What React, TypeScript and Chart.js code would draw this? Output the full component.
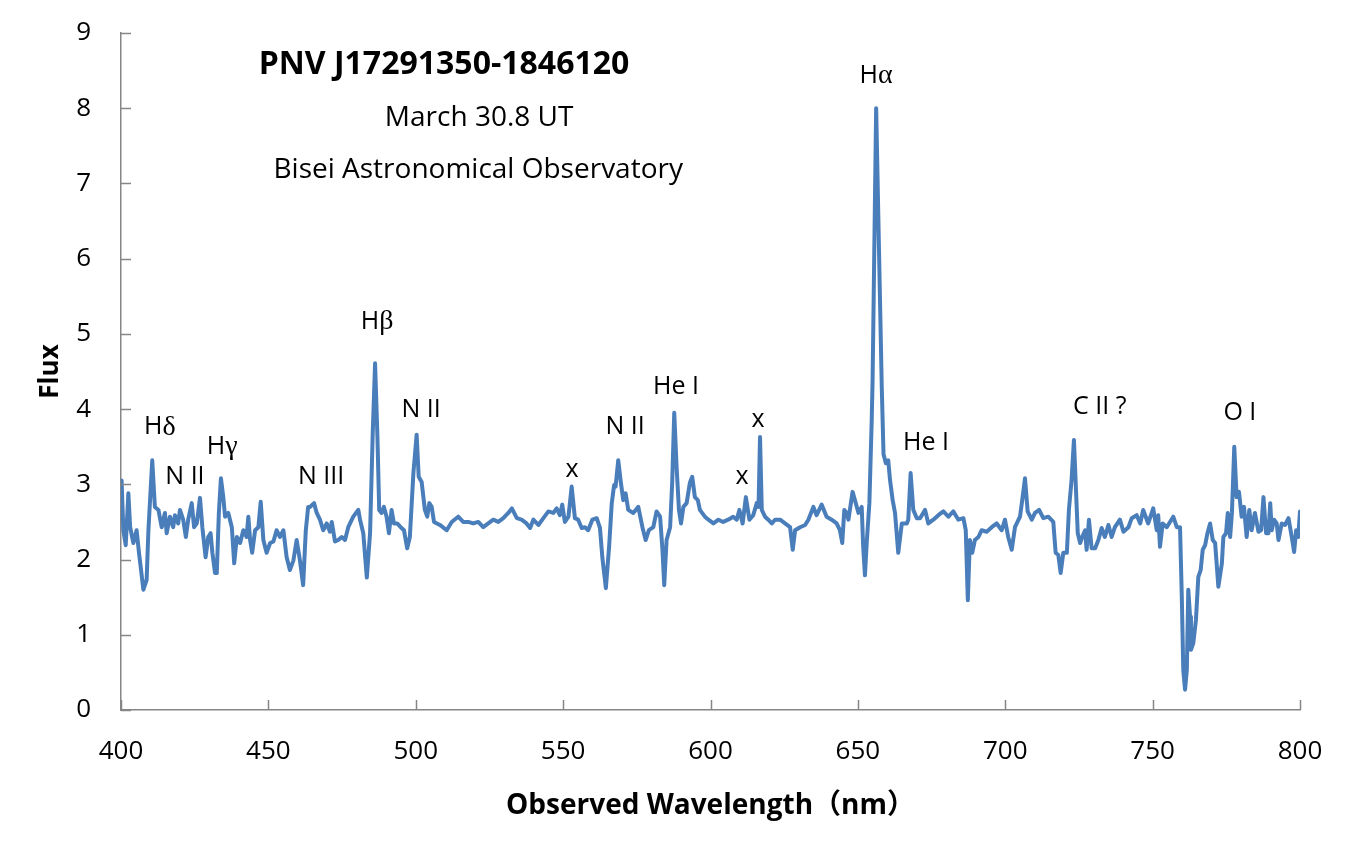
import React, { useEffect, useRef } from "react";
import { Chart, registerables } from "chart.js";

Chart.register(...registerables);

const wavelength = [
  400.2, 400.8, 401.6, 402.5, 403.1, 404.2, 405.3, 406.1, 407.6, 408.7, 409.3, 410.6, 411.5, 412.7, 413.8, 414.9, 415.5, 416.6, 417.7, 418.3,
  419.4, 420.0, 421.1, 422.0, 422.8, 424.0, 424.8, 425.7, 426.8, 427.6, 428.7, 429.6, 430.4, 431.0, 431.9, 432.5, 433.2, 433.9, 434.7, 435.3,
  436.4, 437.6, 438.4, 439.3, 440.4, 441.5, 442.6, 443.2, 443.8, 444.5, 445.5, 446.6, 447.4, 448.3, 449.4, 450.6, 451.7, 452.8, 453.9, 455.1,
  456.2, 457.3, 458.5, 459.6, 460.7, 461.8, 462.7, 463.5, 464.1, 465.5, 466.4, 467.5, 468.6, 469.8, 470.9, 471.5, 472.6, 473.7, 474.9, 476.0,
  477.1, 478.8, 480.5, 481.1, 482.2, 483.4, 484.5, 485.4, 486.2, 487.0, 487.6, 488.4, 489.2, 490.1, 490.9, 491.8, 492.6, 493.7, 494.9, 496.0,
  497.1, 498.0, 499.2, 500.3, 501.0, 502.0, 503.1, 503.9, 504.6, 505.4, 506.2, 508.2, 510.5, 512.2, 514.4, 516.1, 517.8, 519.5, 521.2, 522.9,
  524.6, 526.3, 528.0, 529.7, 531.4, 532.6, 534.3, 535.9, 537.6, 538.8, 539.9, 541.6, 543.3, 545.0, 546.7, 547.8, 548.9, 549.7, 550.6, 551.8,
  552.9, 554.0, 555.1, 556.3, 557.4, 558.5, 559.9, 561.4, 562.5, 563.3, 564.5, 565.6, 566.5, 567.3, 567.8, 568.7, 569.6, 570.4, 571.2, 572.1,
  573.8, 575.5, 576.9, 578.0, 579.1, 580.6, 581.7, 582.9, 583.7, 584.3, 585.1, 586.3, 587.0, 587.7, 588.5, 589.3, 590.0, 590.8, 591.9, 593.0,
  593.8, 594.7, 595.7, 596.4, 598.1, 599.3, 601.0, 602.7, 604.3, 606.0, 607.7, 608.9, 609.8, 610.9, 612.0, 613.2, 614.5, 615.7, 616.3, 616.8,
  617.4, 618.5, 619.6, 620.8, 621.9, 623.6, 625.3, 627.0, 627.9, 628.7, 630.4, 632.1, 633.2, 634.9, 636.0, 637.7, 639.4, 641.1, 642.8, 643.9,
  644.7, 645.4, 646.2, 646.8, 648.2, 649.0, 650.2, 651.3, 651.8, 652.4, 653.0, 653.9, 654.7, 655.0, 656.2, 658.1, 658.7, 659.5, 660.3, 660.9,
  661.8, 662.6, 663.7, 664.9, 666.6, 667.1, 667.9, 668.8, 670.0, 671.1, 672.8, 673.9, 675.6, 677.3, 679.0, 680.7, 682.4, 684.1, 685.8, 686.6,
  687.3, 688.0, 688.8, 689.7, 690.9, 692.0, 693.7, 695.4, 697.1, 698.8, 699.9, 701.0, 702.2, 703.3, 705.0, 705.9, 706.7, 707.6, 709.0, 710.1,
  711.5, 712.9, 714.6, 716.3, 717.1, 718.0, 718.8, 719.7, 720.9, 721.6, 722.5, 723.3, 723.9, 724.6, 725.4, 726.1, 727.1, 727.6, 728.4, 729.3,
  730.5, 731.6, 732.7, 733.8, 735.0, 736.1, 737.2, 738.9, 740.1, 741.8, 742.9, 744.6, 745.8, 746.8, 748.5, 750.2, 751.4, 751.9, 752.5, 753.4,
  754.8, 755.9, 757.0, 758.2, 759.3, 759.9, 760.4, 761.0, 761.6, 762.1, 762.7, 763.0, 763.8, 764.7, 765.5, 766.3, 767.0, 767.8, 768.6, 769.5,
  770.4, 771.2, 772.3, 773.5, 774.0, 774.9, 775.5, 776.3, 776.9, 777.7, 778.5, 779.3, 780.2, 781.0, 781.9, 782.8, 783.6, 784.7, 785.9, 786.8,
  787.6, 788.5, 789.3, 789.9, 790.4, 791.2, 792.1, 792.7, 793.8, 794.9, 796.1, 797.2, 798.0, 798.7, 799.4, 800.0,
];

const flux = [
  3.05, 2.39, 2.19, 2.88, 2.43, 2.22, 2.39, 2.09, 1.60, 1.73, 2.39, 3.32, 2.70, 2.66, 2.43, 2.62, 2.35, 2.57, 2.43, 2.59,
  2.48, 2.66, 2.53, 2.30, 2.53, 2.75, 2.43, 2.48, 2.82, 2.43, 2.03, 2.30, 2.35, 2.09, 1.82, 1.82, 2.62, 3.08, 2.83, 2.57,
  2.62, 2.43, 1.95, 2.30, 2.22, 2.39, 2.30, 2.57, 2.26, 2.09, 2.39, 2.43, 2.77, 2.26, 2.09, 2.22, 2.24, 2.39, 2.30, 2.39,
  2.03, 1.86, 1.99, 2.26, 1.99, 1.66, 2.39, 2.70, 2.70, 2.75, 2.62, 2.53, 2.39, 2.48, 2.37, 2.50, 2.24, 2.26, 2.30, 2.26,
  2.43, 2.57, 2.66, 2.53, 2.35, 1.76, 2.35, 3.68, 4.61, 3.63, 2.66, 2.62, 2.70, 2.57, 2.35, 2.66, 2.48, 2.48, 2.43, 2.39,
  2.15, 2.30, 3.15, 3.66, 3.10, 3.03, 2.66, 2.57, 2.75, 2.70, 2.50, 2.46, 2.39, 2.50, 2.57, 2.50, 2.50, 2.48, 2.50, 2.43,
  2.48, 2.53, 2.50, 2.55, 2.62, 2.68, 2.55, 2.53, 2.48, 2.42, 2.53, 2.46, 2.55, 2.64, 2.62, 2.68, 2.59, 2.73, 2.50, 2.57,
  2.97, 2.55, 2.53, 2.42, 2.43, 2.39, 2.53, 2.55, 2.42, 2.03, 1.62, 2.17, 2.75, 2.99, 2.97, 3.32, 3.02, 2.79, 2.88, 2.66,
  2.62, 2.70, 2.43, 2.26, 2.39, 2.43, 2.64, 2.57, 2.13, 1.66, 2.26, 2.43, 3.02, 3.95, 3.23, 2.66, 2.48, 2.70, 2.75, 3.02,
  3.10, 2.83, 2.79, 2.66, 2.57, 2.53, 2.48, 2.53, 2.50, 2.53, 2.57, 2.53, 2.66, 2.48, 2.83, 2.53, 2.59, 2.75, 2.70, 3.63,
  2.66, 2.57, 2.53, 2.48, 2.53, 2.53, 2.48, 2.43, 2.13, 2.39, 2.43, 2.46, 2.53, 2.70, 2.59, 2.73, 2.57, 2.53, 2.48, 2.39,
  2.22, 2.66, 2.62, 2.53, 2.90, 2.79, 2.62, 2.70, 2.17, 1.79, 2.22, 2.75, 3.86, 4.40, 8.00, 4.30, 3.40, 3.28, 3.32, 3.06,
  2.79, 2.62, 2.09, 2.48, 2.48, 2.53, 3.15, 2.66, 2.55, 2.55, 2.66, 2.48, 2.53, 2.59, 2.64, 2.57, 2.64, 2.53, 2.55, 2.39,
  1.46, 2.26, 2.09, 2.26, 2.30, 2.39, 2.37, 2.43, 2.48, 2.39, 2.53, 2.30, 2.13, 2.43, 2.57, 2.83, 3.08, 2.64, 2.53, 2.62,
  2.66, 2.55, 2.57, 2.50, 2.09, 2.06, 1.82, 2.09, 2.09, 2.66, 3.06, 3.59, 3.02, 2.35, 2.22, 2.30, 2.39, 2.13, 2.53, 2.15,
  2.15, 2.26, 2.42, 2.30, 2.46, 2.30, 2.43, 2.53, 2.37, 2.43, 2.55, 2.59, 2.48, 2.66, 2.48, 2.68, 2.39, 2.59, 2.17, 2.48,
  2.43, 2.50, 2.57, 2.43, 2.43, 1.50, 0.53, 0.27, 0.53, 1.60, 1.24, 0.80, 0.89, 1.20, 1.77, 1.86, 2.13, 2.19, 2.35, 2.48,
  2.26, 2.22, 1.64, 1.95, 2.30, 2.35, 2.62, 2.30, 2.62, 3.50, 2.83, 2.90, 2.57, 2.70, 2.30, 2.66, 2.39, 2.62, 2.37, 2.39,
  2.83, 2.35, 2.35, 2.75, 2.39, 2.53, 2.48, 2.26, 2.48, 2.46, 2.55, 2.30, 2.10, 2.39, 2.30, 2.64,
];

const xTicks = [400, 450, 500, 550, 600, 650, 700, 750, 800];
const yTicks = [0, 1, 2, 3, 4, 5, 6, 7, 8, 9];

const lineLabels = ["Hδ", "N II", "Hγ", "N III", "Hβ", "N II", "x", "N II", "He I", "x", "x", "Hα", "He I", "C II ?", "O I"];
const lineLabelWavelength = [413.2, 421.7, 434.3, 467.9, 486.9, 501.8, 553.0, 571.0, 588.3, 610.7, 616.1, 656.2, 673.1, 732.1, 779.6];
const lineLabelFlux = [3.76, 3.10, 3.50, 3.10, 5.16, 3.99, 3.19, 3.76, 4.29, 3.10, 3.86, 8.43, 3.55, 4.03, 3.95];

const titleLines = ["PNV J17291350-1846120", "March 30.8 UT", "Bisei Astronomical Observatory"];
const titleWavelength = [509.6, 521.5, 521.2];
const titleFlux = [8.57, 7.87, 7.18];

const SANS = "'Open Sans', 'Noto Sans CJK JP', sans-serif";
const GREEK = "'Liberation Serif', 'DejaVu Serif', serif";

function drawMixed(ctx: CanvasRenderingContext2D, text: string, cx: number, cy: number, size: number, bold: boolean) {
  const runs: { t: string; greek: boolean }[] = [];
  for (const ch of text) {
    const greek = /[\u0370-\u03FF]/.test(ch);
    const last = runs[runs.length - 1];
    if (last && last.greek === greek) last.t += ch;
    else runs.push({ t: ch, greek });
  }
  const fontFor = (g: boolean) => (g ? `${Math.round(size * 1.1)}px ${GREEK}` : `${bold ? "bold " : ""}${size}px ${SANS}`);
  let total = 0;
  const widths = runs.map((r) => {
    ctx.font = fontFor(r.greek);
    const w = ctx.measureText(r.t).width;
    total += w;
    return w;
  });
  let x = cx - total / 2;
  ctx.textAlign = "left";
  ctx.textBaseline = "middle";
  runs.forEach((r, i) => {
    ctx.font = fontFor(r.greek);
    ctx.fillText(r.t, x, cy);
    x += widths[i];
  });
}

const overlayPlugin = {
  id: "overlay",
  afterDraw(chart: any) {
    const { ctx, chartArea } = chart;
    const xs = chart.scales.x;
    const ys = chart.scales.y;
    ctx.save();
    ctx.strokeStyle = "#868686";
    ctx.lineWidth = 1.5;
    xTicks.forEach((v) => {
      const px = Math.round(xs.getPixelForValue(v)) + 0.5;
      ctx.beginPath();
      ctx.moveTo(px, chartArea.bottom);
      ctx.lineTo(px, chartArea.bottom - 10);
      ctx.stroke();
    });
    yTicks.forEach((v) => {
      const py = Math.round(ys.getPixelForValue(v)) + 0.5;
      ctx.beginPath();
      ctx.moveTo(chartArea.left, py);
      ctx.lineTo(chartArea.left + 10, py);
      ctx.stroke();
    });
    ctx.fillStyle = "#000";
    lineLabels.forEach((t, i) => {
      drawMixed(ctx, t, xs.getPixelForValue(lineLabelWavelength[i]), ys.getPixelForValue(lineLabelFlux[i]), 25, false);
    });
    titleLines.forEach((t, i) => {
      drawMixed(ctx, t, xs.getPixelForValue(titleWavelength[i]), ys.getPixelForValue(titleFlux[i]), i === 0 ? 32 : 28, i === 0);
    });
    ctx.restore();
  },
};

export default function App() {
  const canvasRef = useRef<HTMLCanvasElement | null>(null);
  useEffect(() => {
    if (!canvasRef.current) return;
    const points = wavelength.map((w, i) => ({ x: w, y: flux[i] }));
    const chart = new Chart(canvasRef.current, {
      type: "line",
      data: {
        datasets: [
          {
            data: points,
            borderColor: "#4a7ebb",
            borderWidth: 4,
            pointRadius: 0,
            tension: 0,
            fill: false,
            borderJoinStyle: "round",
            borderCapStyle: "round",
          },
        ],
      },
      options: {
        animation: false,
        responsive: false,
        layout: { padding: { top: 33, right: 50, left: 0, bottom: 0 } },
        plugins: { legend: { display: false }, tooltip: { enabled: false } },
        scales: {
          x: {
            type: "linear",
            min: 400,
            max: 800,
            afterBuildTicks: (s: any) => {
              s.ticks = xTicks.map((v) => ({ value: v }));
            },
            ticks: { font: { family: SANS, size: 26 }, color: "#000", padding: 26, maxRotation: 0, autoSkip: false },
            grid: { display: false, drawTicks: false },
            border: { display: true, color: "#868686", width: 1.5 },
            title: {
              display: true,
              text: "Observed Wavelength（nm）",
              font: { family: SANS, size: 28, weight: "bold" },
              color: "#000",
              padding: { top: 0, bottom: 26 },
            },
            afterFit: (s: any) => {
              s.height = 139;
              s.paddingLeft = 0;
              s.paddingRight = 0;
            },
          },
          y: {
            type: "linear",
            min: 0,
            max: 9,
            afterBuildTicks: (s: any) => {
              s.ticks = yTicks.map((v) => ({ value: v }));
            },
            ticks: { font: { family: SANS, size: 26 }, color: "#000", padding: 30 },
            grid: { display: false, drawTicks: false },
            border: { display: true, color: "#868686", width: 1.5 },
            title: {
              display: true,
              text: "Flux",
              font: { family: SANS, size: 26, weight: "bold" },
              color: "#000",
              padding: { top: 35, bottom: 0 },
            },
            afterFit: (s: any) => {
              s.width = 121;
              s.paddingTop = 0;
              s.paddingBottom = 0;
            },
          },
        },
      } as any,
      plugins: [overlayPlugin],
    });
    return () => chart.destroy();
  }, []);
  return (
    <div style={{ position: "absolute", left: 0, top: 0, width: 1350, height: 849, background: "#fff" }}>
      <canvas ref={canvasRef} width={1350} height={849} style={{ display: "block" }} />
    </div>
  );
}
